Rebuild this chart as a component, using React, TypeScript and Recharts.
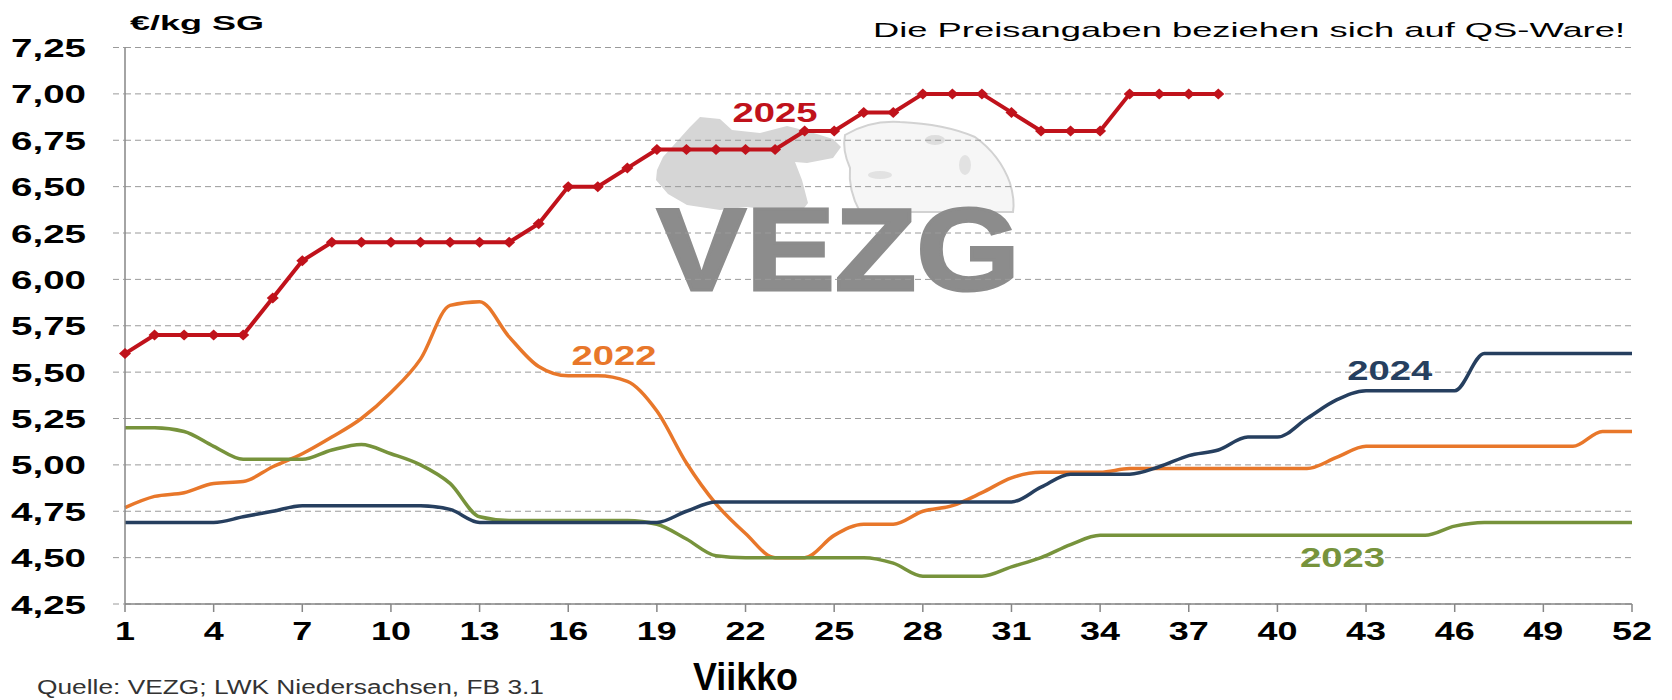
import React from "react";
import { LineChart, Line, XAxis, YAxis, CartesianGrid, ReferenceDot } from "recharts";

const FONT = "'Liberation Sans', Arial, Helvetica, sans-serif";

const weeks = Array.from({ length: 52 }, (_, i) => i + 1);
const xTicks = [1, 4, 7, 10, 13, 16, 19, 22, 25, 28, 31, 34, 37, 40, 43, 46, 49, 52];
const yTicks = [4.25, 4.5, 4.75, 5.0, 5.25, 5.5, 5.75, 6.0, 6.25, 6.5, 6.75, 7.0, 7.25];

// €/kg SG per week
const price2022 = [
	4.77, 4.83, 4.85, 4.9, 4.91, 4.99, 5.06, 5.15, 5.25, 5.39, 5.57, 5.86, 5.88, 5.69, 5.53, 5.48, 5.48, 5.45,
	5.29, 5.01, 4.79, 4.63, 4.5, 4.5, 4.62, 4.68, 4.68, 4.75, 4.78, 4.85, 4.93, 4.96, 4.96, 4.96, 4.98, 4.98,
	4.98, 4.98, 4.98, 4.98, 4.98, 5.04, 5.1, 5.1, 5.1, 5.1, 5.1, 5.1, 5.1, 5.1, 5.18, 5.18,
];
const price2023 = [
	5.2, 5.2, 5.18, 5.1, 5.03, 5.03, 5.03, 5.08, 5.11, 5.06, 5.0, 4.9, 4.72, 4.7, 4.7, 4.7, 4.7, 4.7, 4.68,
	4.6, 4.51, 4.5, 4.5, 4.5, 4.5, 4.5, 4.47, 4.4, 4.4, 4.4, 4.45, 4.5, 4.57, 4.62, 4.62, 4.62, 4.62, 4.62,
	4.62, 4.62, 4.62, 4.62, 4.62, 4.62, 4.62, 4.67, 4.69, 4.69, 4.69, 4.69, 4.69, 4.69,
];
const price2024 = [
	4.69, 4.69, 4.69, 4.69, 4.72, 4.75, 4.78, 4.78, 4.78, 4.78, 4.78, 4.76, 4.69, 4.69, 4.69, 4.69, 4.69, 4.69,
	4.69, 4.75, 4.8, 4.8, 4.8, 4.8, 4.8, 4.8, 4.8, 4.8, 4.8, 4.8, 4.8, 4.88, 4.95, 4.95, 4.95, 4.99, 5.05,
	5.08, 5.15, 5.15, 5.25, 5.35, 5.4, 5.4, 5.4, 5.4, 5.6, 5.6, 5.6, 5.6, 5.6, 5.6,
];
const price2025 = [
	5.6, 5.7, 5.7, 5.7, 5.7, 5.9, 6.1, 6.2, 6.2, 6.2, 6.2, 6.2, 6.2, 6.2, 6.3, 6.5, 6.5, 6.6, 6.7, 6.7, 6.7,
	6.7, 6.7, 6.8, 6.8, 6.9, 6.9, 7.0, 7.0, 7.0, 6.9, 6.8, 6.8, 6.8, 7.0, 7.0, 7.0, 7.0,
];

const RED = "#c0121b";
const ORANGE = "#e8772a";
const NAVY = "#263f5f";
const GREEN = "#77933c";

const yearNames = ["2025", "2022", "2024", "2023"];
const yearColors = [RED, ORANGE, NAVY, GREEN];
// label anchor (week, price) for each year name, text baseline centre
const labelWeeks = [23.0, 17.55, 43.8, 42.2];
const labelPrices = [6.85, 5.54, 5.46, 4.45];

const chartData = weeks.map((week, i) => ({
	week,
	y2022: price2022[i],
	y2023: price2023[i],
	y2024: price2024[i],
	y2025: price2025[i],
}));

const YTick = ({ x, y, payload }: any) => (
	<text
		x={x}
		y={y}
		dy={9.5}
		textAnchor="end"
		fontFamily={FONT}
		fontWeight="bold"
		fontSize={26}
		fill="#000"
		textLength={75}
		lengthAdjust="spacingAndGlyphs"
	>
		{payload.value.toFixed(2).replace(".", ",")}
	</text>
);

const XTick = ({ x, y, payload }: any) => {
	const label = String(payload.value);
	return (
		<text
			x={x}
			y={y}
			dy={28}
			textAnchor="middle"
			fontFamily={FONT}
			fontWeight="bold"
			fontSize={25}
			fill="#000"
			textLength={label.length * 20}
			lengthAdjust="spacingAndGlyphs"
		>
			{label}
		</text>
	);
};

const Diamond = (p: any) => {
	if (p.cx == null || p.cy == null || p.value == null) return <g key={`d-${p.index}`} />;
	const { cx, cy } = p;
	return (
		<path
			key={`d-${p.index}`}
			d={`M${cx},${cy - 5.5}L${cx + 6},${cy}L${cx},${cy + 5.5}L${cx - 6},${cy}Z`}
			fill={RED}
		/>
	);
};

const Background = () => (
	<svg width={1672} height={700} style={{ position: "absolute", left: 0, top: 0 }}>
		<rect width={1672} height={700} fill="#fff" />
		{/* VEZG watermark */}
		<path
			d="M657,170 L663,157 L690,127 L700,117 L720,119 L732,130 L760,133 L787,126 L807,131 L833,139 L841,147 L833,158 L807,163 L795,162 L802,180 L808,203 L798,216 L773,210 L747,207 L720,210 L687,205 L668,194 L656,180 Z"
			fill="#d6d6d6"
		/>
		<path
			d="M845,135 Q870,120 900,122 Q945,124 975,137 Q1000,155 1010,183 Q1015,200 1013,212 L860,212 Q848,190 850,168 Q842,150 845,135 Z"
			fill="#f6f6f6"
			stroke="#d2d2d2"
			strokeWidth={2}
		/>
		<ellipse cx={935} cy={140} rx={10} ry={5} fill="#dedede" />
		<ellipse cx={965} cy={165} rx={6} ry={10} fill="#e2e2e2" />
		<ellipse cx={880} cy={175} rx={12} ry={4} fill="#e2e2e2" />
		<text
			x={657}
			y={290}
			fontFamily={FONT}
			fontWeight="bold"
			fontSize={116}
			fill="#8c8c8c"
			stroke="#8c8c8c"
			strokeWidth={3}
			textLength={363}
			lengthAdjust="spacingAndGlyphs"
		>
			VEZG
		</text>
		<text x={130} y={30} fontFamily={FONT} fontWeight="bold" fontSize={21} fill="#000" textLength={134} lengthAdjust="spacingAndGlyphs">
			€/kg SG
		</text>
		<text x={873} y={37} fontFamily={FONT} fontSize={21} fill="#000" textLength={752} lengthAdjust="spacingAndGlyphs">
			Die Preisangaben beziehen sich auf QS-Ware!
		</text>
		<text x={693} y={690} fontFamily={FONT} fontWeight="bold" fontSize={39} fill="#000" textLength={105} lengthAdjust="spacingAndGlyphs">
			Viikko
		</text>
		<text x={37} y={694} fontFamily={FONT} fontSize={20} fill="#333" textLength={507} lengthAdjust="spacingAndGlyphs">
			Quelle: VEZG; LWK Niedersachsen, FB 3.1
		</text>
	</svg>
);

export default function App() {
	return (
		<div style={{ position: "absolute", left: 0, top: 0, width: 1672, height: 700, overflow: "hidden" }}>
			<Background />
			<div style={{ position: "absolute", left: 0, top: 0 }}>
				<LineChart width={1672} height={700} data={chartData} margin={{ top: 47.5, right: 40, left: 0, bottom: 0 }}>
					<CartesianGrid horizontal vertical={false} stroke="#9a9a9a" strokeDasharray="6 4" />
					<XAxis
						dataKey="week"
						type="number"
						domain={[1, 52]}
						ticks={xTicks}
						interval={0}
						height={96}
						tickSize={8}
						tickMargin={0}
						axisLine={{ stroke: "#868686", strokeWidth: 1.5 }}
						tickLine={{ stroke: "#868686", strokeWidth: 1.5 }}
						tick={<XTick />}
					/>
					<YAxis
						type="number"
						domain={[4.25, 7.25]}
						ticks={yTicks}
						interval={0}
						width={125}
						tickSize={12}
						tickMargin={27}
						axisLine={{ stroke: "#868686", strokeWidth: 1.5 }}
						tickLine={{ stroke: "#9a9a9a", strokeDasharray: "6 4" }}
						tick={<YTick />}
					/>
					<Line dataKey="y2022" type="monotone" stroke={ORANGE} strokeWidth={3.5} dot={false} isAnimationActive={false} />
					<Line dataKey="y2023" type="monotone" stroke={GREEN} strokeWidth={3.5} dot={false} isAnimationActive={false} />
					<Line dataKey="y2024" type="monotone" stroke={NAVY} strokeWidth={3.5} dot={false} isAnimationActive={false} />
					<Line dataKey="y2025" type="linear" stroke={RED} strokeWidth={4} dot={Diamond} activeDot={false} isAnimationActive={false} />
					{yearNames.map((name, i) => (
						<ReferenceDot
							key={name}
							x={labelWeeks[i]}
							y={labelPrices[i]}
							r={0}
							shape={(p: any) => (
								<text
									x={p.cx}
									y={p.cy}
									textAnchor="middle"
									fontFamily={FONT}
									fontWeight="bold"
									fontSize={28}
									fill={yearColors[i]}
									textLength={85}
									lengthAdjust="spacingAndGlyphs"
								>
									{name}
								</text>
							)}
						/>
					))}
				</LineChart>
			</div>
		</div>
	);
}
